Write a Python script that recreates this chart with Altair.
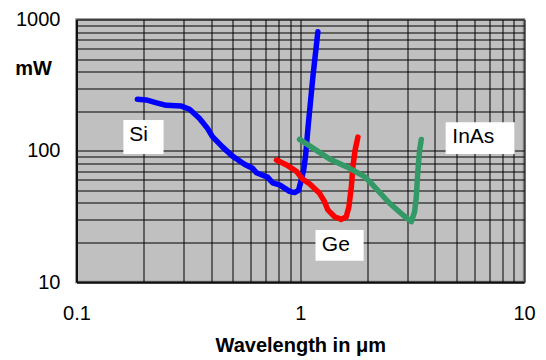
import altair as alt
import pandas as pd

# ---- data ----
si_wl = [0.187, 0.205, 0.228, 0.252, 0.294, 0.320, 0.354, 0.385, 0.405, 0.449, 0.498, 0.563,
         0.612, 0.637, 0.714, 0.752, 0.808, 0.896, 0.943, 0.983, 1.003, 1.035, 1.056, 1.084,
         1.139, 1.199]
si_mw = [247, 244, 232, 222, 219, 207, 177, 148, 128, 107, 91, 79,
         73.5, 68, 63, 57, 55, 49, 48, 50, 57, 71, 91, 152,
         367, 807]

ge_wl = [0.783, 0.869, 0.963, 1.024, 1.100, 1.220, 1.284, 1.329, 1.424, 1.525, 1.606, 1.650,
         1.692, 1.719, 1.759, 1.810]
ge_mw = [85, 78, 69.5, 61, 56, 47.4, 40.9, 35.4, 31.4, 30.0, 31.4, 37.5,
         53, 76, 101, 127]

inas_wl = [0.993, 1.159, 1.352, 1.662, 1.939, 2.112, 2.508, 2.877, 3.136, 3.245, 3.302, 3.357,
           3.416, 3.476]
inas_mw = [122, 103, 86.5, 73.5, 63.4, 54.8, 39.8, 32.4, 28.8, 34.3, 44.7, 71.4,
           101, 122]

materials = ["Si", "Ge", "InAs"]
colors = ["#0000FF", "#FF0000", "#339966"]

# label boxes (annotations)
box_x1 = [0.162, 1.17, 4.465]
box_x2 = [0.245, 1.92, 9.09]
box_y1 = [94.5, 14.5, 94.5]
box_y2 = [171.5, 24.9, 164.7]
text_x = [0.172, 1.249, 4.783]
text_y = [131.8, 19.1, 127.9]

x_grid = [0.1, 0.2, 0.3, 0.4, 0.5, 0.6, 0.7, 0.8, 0.9, 1, 2, 3, 4, 5, 6, 7, 8, 9, 10]
y_grid = [10, 20, 30, 40, 50, 60, 70, 80, 90, 100, 200, 300, 400, 500, 600, 700, 800, 900, 1000]
x_tick_labels = ["0.1", "1", "10"]
y_tick_labels = ["10", "100", "1000"]

rows = []
for name, xs, ys in [("Si", si_wl, si_mw), ("Ge", ge_wl, ge_mw), ("InAs", inas_wl, inas_mw)]:
    for i, (a, b) in enumerate(zip(xs, ys)):
        rows.append({"material": name, "wl": a, "mw": b, "idx": i})
df = pd.DataFrame(rows)

lab = pd.DataFrame({"label": materials, "x1": box_x1, "x2": box_x2, "y1": box_y1,
                    "y2": box_y2, "tx": text_x, "ty": text_y})

FONT = "Liberation Sans"


def expr_for(labels):
    cond = " || ".join(f"datum.value == {v}" for v in labels)
    return f"({cond}) ? format(datum.value, '~g') : ''"


xscale = alt.Scale(type="log", domain=[0.1, 10], nice=False)
yscale = alt.Scale(type="log", domain=[10, 1000], nice=False)

xaxis = alt.Axis(values=x_grid, labelExpr=expr_for(x_tick_labels), grid=True, gridColor="black",
                 gridWidth=1, gridOpacity=1, ticks=False, tickSize=0, domainColor="#111",
                 domainWidth=2, labelFont=FONT, labelFontSize=20, labelColor="black",
                 labelPadding=21, labelFlush=False, labelOverlap=False,
                 title="Wavelength in \u03bcm", titleFont=FONT, titleFontSize=20,
                 titleFontWeight="bold", titleColor="black", titleY=63, titleBaseline="middle")
yaxis = alt.Axis(values=y_grid, labelExpr=expr_for(y_tick_labels), grid=True, gridColor="black",
                 gridWidth=1, gridOpacity=1, ticks=False, tickSize=0, domainColor="#111",
                 domainWidth=2, labelFont=FONT, labelFontSize=20, labelColor="black",
                 labelPadding=16.5, labelFlush=False, labelOverlap=False, labelBaseline="middle",
                 title="mW", titleFont=FONT, titleFontSize=20, titleFontWeight="bold",
                 titleColor="black", titleAngle=0, titleX=-43.5, titleY=48.5,
                 titleAlign="center", titleBaseline="middle")

lines = alt.Chart(df).mark_line(strokeWidth=5.5, strokeCap="round", strokeJoin="round").encode(
    x=alt.X("wl:Q", scale=xscale, axis=xaxis),
    y=alt.Y("mw:Q", scale=yscale, axis=yaxis),
    color=alt.Color("material:N", scale=alt.Scale(domain=materials, range=colors), legend=None),
    order="idx:Q",
)

boxes = alt.Chart(lab).mark_rect(fill="white").encode(
    x="x1:Q", x2="x2:Q", y="y1:Q", y2="y2:Q"
)

texts = alt.Chart(lab).mark_text(align="left", baseline="middle", font=FONT, fontSize=21,
                                 color="black").encode(
    x="tx:Q", y="ty:Q", text="label:N"
)

chart = alt.layer(lines, boxes, texts).properties(
    width=447.5, height=262.5,
    autosize=alt.AutoSizeParams(type="none"),
    padding={"left": 68.5, "top": 11.5, "right": 14, "bottom": 78},
).configure_view(fill="#C0C0C0", stroke="#808080", strokeWidth=2.5)

chart.save("out.html", embed_options={"renderer": "svg", "actions": False})
